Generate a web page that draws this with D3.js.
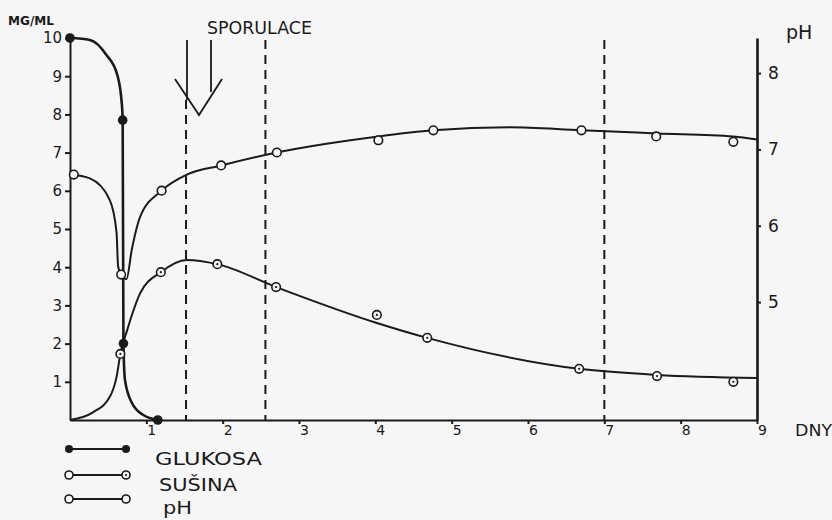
<!DOCTYPE html>
<html><head><meta charset="utf-8">
<script src="https://cdn.jsdelivr.net/npm/d3@7"></script>
<style>
body{margin:0;background:#f6f6f6;}
svg{display:block;background:#f6f6f6;}
text{font-family:"DejaVu Sans",sans-serif;fill:#1a1a1a;}
</style></head><body>
<svg id="c" width="832" height="520"></svg>
<script>
// ---- data ----
const xTicks = [1,2,3,4,5,6,7,8,9];
const leftTicks = [1,2,3,4,5,6,7,8,9,10];
const rightTicks = [5,6,7,8];
const dashedDays = [1.52, 2.56, 7.0];

// measured points  [day, value]
const glukosaPts = [[0,10],[0.69,7.85],[0.70,2.0],[1.15,0]];
const susinaPts  = [[0.66,1.73],[1.19,3.87],[1.93,4.08],[2.70,3.48],[4.02,2.75],[4.68,2.15],[6.67,1.34],[7.69,1.15],[8.69,1.0]];
const phPts      = [[0.05,6.67],[0.67,5.36],[1.20,6.46],[1.98,6.79],[2.71,6.96],[4.04,7.12],[4.76,7.25],[6.70,7.25],[7.68,7.17],[8.69,7.10]];

// hand-drawn curves
const glukosaCurve = [[0,10],[0.26,9.95],[0.48,9.55],[0.62,9.03],[0.68,8.25],[0.69,7.85],[0.70,2.0],[0.72,1.05],[0.81,0.45],[0.96,0.13],[1.15,0]];
const susinaCurve  = [[0,0],[0.3,0.2],[0.52,0.6],[0.61,1.13],[0.66,1.73],[0.75,2.36],[0.92,3.32],[1.19,3.87],[1.53,4.19],[1.93,4.08],[2.70,3.48],[4.02,2.54],[4.68,2.15],[6.67,1.34],[7.69,1.18],[9,1.1]];
const phCurve      = [[0,6.67],[0.26,6.62],[0.52,6.34],[0.61,5.91],[0.63,5.47],[0.67,5.36],[0.74,5.30],[0.81,5.69],[0.92,6.12],[1.20,6.46],[1.53,6.67],[1.98,6.79],[2.71,6.96],[4.04,7.17],[4.76,7.25],[5.76,7.29],[6.70,7.25],[7.69,7.21],[8.69,7.17],[9,7.13]];

const svg = d3.select("#c");
const x  = d3.scaleLinear().domain([0,9]).range([70,757]);
const yL = d3.scaleLinear().domain([0,10]).range([420,38]);
const yR = d3.scaleLinear().domain([3.455,8.46]).range([420,38]);
const ink = "#1a1a1a";

// dashed verticals
svg.selectAll(".dash").data(dashedDays).join("line")
  .attr("x1",d=>x(d)).attr("x2",d=>x(d))
  .attr("y1",(d,i)=>i===0?100:40).attr("y2",420)
  .attr("stroke",ink).attr("stroke-width",2).attr("stroke-dasharray","9,6");

// axes
const gL = svg.append("g").attr("transform",`translate(${x(0)},0)`)
  .call(d3.axisLeft(yL).tickValues(leftTicks).tickSize(5).tickSizeOuter(0).tickPadding(3));
gL.selectAll("text").style("font-size","15px");
const gB = svg.append("g").attr("transform",`translate(0,${yL(0)})`)
  .call(d3.axisBottom(x).tickValues(xTicks).tickSize(4).tickSizeOuter(0).tickPadding(1));
gB.selectAll("text").style("font-size","14px").attr("dx","5");
const gR = svg.append("g").attr("transform",`translate(${x(9)},0)`)
  .call(d3.axisRight(yR).tickValues(rightTicks).tickFormat(d3.format("d")).tickSize(4).tickSizeOuter(0).tickPadding(7));
gR.selectAll("text").style("font-size","17px");
[gL,gB,gR].forEach(g=>{g.selectAll("path,line").attr("stroke",ink).attr("stroke-width",2);
  g.selectAll("text").attr("fill",ink).style("font-family","DejaVu Sans");});
gR.select(".domain").attr("stroke-width",2.6);

// curves
const lineL = d3.line().x(d=>x(d[0])).y(d=>yL(d[1])).curve(d3.curveMonotoneX);
const lineR = d3.line().x(d=>x(d[0])).y(d=>yR(d[1])).curve(d3.curveMonotoneX);
svg.append("path").attr("d",lineL(glukosaCurve)).attr("fill","none").attr("stroke",ink).attr("stroke-width",2.6);
svg.append("path").attr("d",lineL(susinaCurve)).attr("fill","none").attr("stroke",ink).attr("stroke-width",2);
svg.append("path").attr("d",lineR(phCurve)).attr("fill","none").attr("stroke",ink).attr("stroke-width",2);

// points
svg.selectAll(".g").data(glukosaPts).join("circle")
  .attr("cx",d=>x(d[0])).attr("cy",d=>yL(d[1])).attr("r",4.8).attr("fill",ink);
const sp = svg.selectAll(".s").data(susinaPts).join("g").attr("transform",d=>`translate(${x(d[0])},${yL(d[1])})`);
sp.append("circle").attr("r",4.3).attr("fill","#f6f6f6").attr("stroke",ink).attr("stroke-width",1.6);
sp.append("circle").attr("r",1.1).attr("fill",ink);
svg.selectAll(".p").data(phPts).join("circle")
  .attr("cx",d=>x(d[0])).attr("cy",d=>yR(d[1])).attr("r",4.3)
  .attr("fill","#f6f6f6").attr("stroke",ink).attr("stroke-width",1.6);

// arrow (sporulation)
svg.append("path").attr("d",`M187,40V100 M211,40V92 M175,79L199,115L222,79`)
  .attr("fill","none").attr("stroke",ink).attr("stroke-width",1.8);

// labels
svg.append("text").attr("x",207).attr("y",34).attr("textLength",105).attr("lengthAdjust","spacingAndGlyphs")
  .style("font-size","17px").text("SPORULACE");
svg.append("text").attr("x",8).attr("y",25).attr("textLength",46).attr("lengthAdjust","spacingAndGlyphs")
  .style("font-size","13px").style("font-weight","bold").text("MG/ML");
svg.append("text").attr("x",786).attr("y",39).style("font-size","19px").text("pH");
svg.append("text").attr("x",795).attr("y",436).attr("textLength",37).attr("lengthAdjust","spacingAndGlyphs")
  .style("font-size","16px").text("DNY");

// legend
const legend = [
  {name:"GLUKOSA", y:449, left:"filled", right:"filled", tl:107},
  {name:"SUŠINA",  y:475, left:"open",   right:"dot",    tl:78},
  {name:"pH",      y:499, left:"open",   right:"open",   tl:29}
];
const lg = svg.selectAll(".lg").data(legend).join("g").attr("transform",d=>`translate(0,${d.y})`);
lg.append("line").attr("x1",69).attr("x2",126).attr("stroke",ink).attr("stroke-width",1.8);
function marker(sel,kind,cx){
  if(kind==="filled") sel.append("circle").attr("cx",cx).attr("r",4).attr("fill",ink);
  else { sel.append("circle").attr("cx",cx).attr("r",4).attr("fill","#f6f6f6").attr("stroke",ink).attr("stroke-width",1.6);
    if(kind==="dot") sel.append("circle").attr("cx",cx).attr("r",1.1).attr("fill",ink); }
}
lg.each(function(d){ const s=d3.select(this); marker(s,d.left,69); marker(s,d.right,126); });
lg.append("text").attr("x",d=>d.name==="GLUKOSA"?155:(d.name==="pH"?163:159)).attr("y",d=>d.name==="pH"?15:16)
  .attr("textLength",d=>d.tl).attr("lengthAdjust","spacingAndGlyphs")
  .style("font-size","18px").text(d=>d.name);
</script></body></html>
